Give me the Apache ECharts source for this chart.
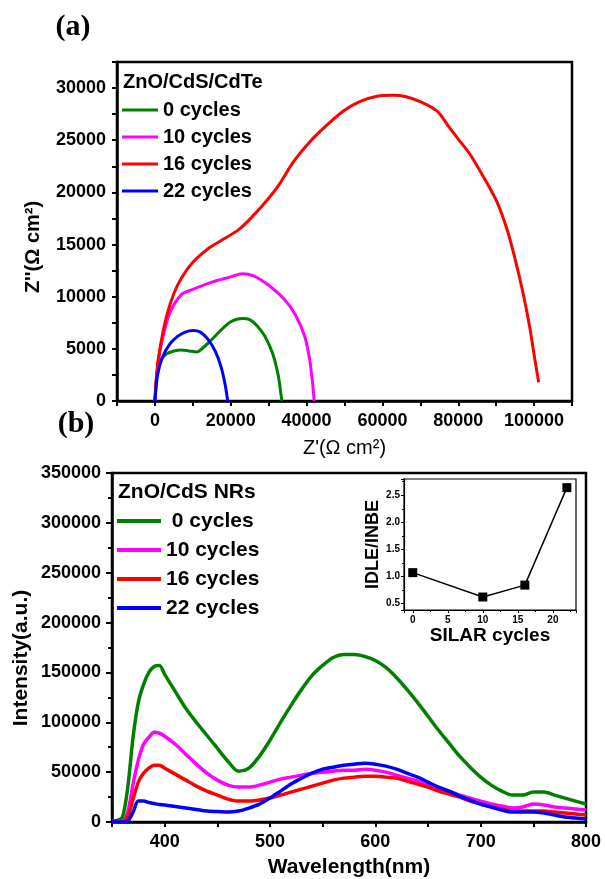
<!DOCTYPE html>
<html>
<head>
<meta charset="utf-8">
<script src="https://cdn.jsdelivr.net/npm/echarts@6/dist/echarts.min.js"></script>
<style>
html,body{margin:0;padding:0;background:#fff}
#chart{width:605px;height:879px}
</style>
</head>
<body>
<div id="chart"></div>
<script>
var FONT = "'Liberation Sans', Arial, sans-serif";
var colors = ['#008000', '#ff00ff', '#ff0000', '#0000ff'];
var namesA = ['0 cycles', '10 cycles', '16 cycles', '22 cycles'];
var namesB = [' 0 cycles', '10 cycles', '16 cycles', '22 cycles'];

// (a) Nyquist plots, [Z', Z'']
var nyq0 = [[0,0],[500,2500],[1500,3900],[3000,4500],[5000,4800],[7000,4900],[9000,4800],[11000,4700],[13000,5200],[15000,5900],[18000,7000],[20000,7600],[23000,7900],[25000,7800],[27000,7200],[29000,6200],[31000,4600],[32500,2500],[33300,500],[33500,0]];
var nyq10 = [[0,0],[800,3500],[2000,6000],[4000,8500],[7000,10200],[10000,10700],[15000,11400],[20000,11900],[23000,12200],[26000,12000],[30000,11100],[34000,9800],[37000,8300],[39500,6200],[40800,4000],[41500,2000],[42000,0]];
var nyq16 = [[0,0],[700,3500],[1800,6000],[3200,8300],[5000,10300],[7000,11800],[10000,13300],[14000,14600],[18000,15500],[22000,16400],[25500,17600],[29000,19000],[32500,20600],[36430,22870],[40000,24500],[43560,25850],[49630,27780],[54000,28700],[58600,29220],[62830,29310],[66000,29200],[70000,28700],[74450,27780],[77500,26300],[80000,25100],[83000,23700],[86590,21520],[90290,19020],[93000,16300],[95040,13540],[97000,10500],[98800,7200],[100200,4000],[101200,1800]];
var nyq22 = [[0,0],[700,2500],[2000,4200],[4000,5500],[6000,6200],[8000,6600],[10000,6750],[12000,6600],[14000,5900],[16000,4700],[17500,3200],[18500,1600],[19200,0]];

// (b) PL spectra
var wavelength = [350,355,360,365,370,375,380,385,390,395,400,410,420,430,440,450,460,470,480,490,500,510,520,530,540,550,560,570,580,590,600,610,620,630,640,650,660,670,680,690,700,710,720,730,740,750,760,770,780,790,800];
var pl0 = [1000,1500,5000,35000,85000,120000,138000,150000,156000,157000,148000,131000,114000,100000,87000,74000,61000,51000,54000,66000,82000,100000,117000,133000,147000,157000,165000,168000,168000,166000,162000,155000,145000,133000,120000,106000,92000,79000,66000,55000,45000,37000,31000,27000,27000,30000,30000,27000,24000,21000,18000];
var pl10 = [0,0,500,10000,38000,62000,78000,85000,90000,89000,86000,78000,68000,58000,49000,42000,37000,35000,35000,37000,40000,43000,45000,47000,49000,50000,51000,52000,52000,53000,52000,50000,47000,44000,41000,37000,34000,31000,27000,24000,21000,18000,16000,14000,15000,18000,17000,15000,14000,13000,12000];
var pl16 = [0,0,0,6000,23000,40000,49000,54000,57000,57000,54000,48000,42000,36000,31000,27000,23000,21000,21000,22000,24000,27000,30000,33000,36000,39000,42000,44000,45000,46000,46000,45000,44000,41000,38000,35000,31000,28000,25000,21000,18000,15000,13000,11000,11000,11000,11000,10000,9000,8000,7000];
var pl22 = [0,0,0,1000,10000,21000,21000,19500,18500,17500,17000,15500,14000,12500,11000,10500,10000,11000,14000,18000,24000,31000,38000,44000,49000,53000,55000,57000,58000,59000,58000,56000,53000,49000,45000,40000,35000,31000,26000,22000,18000,15000,12000,10000,10000,10000,9000,7000,5000,4000,3000];

// inset
var silarCycles = [0, 10, 16, 22];
var ratio = [1.07, 0.62, 0.84, 2.64];

function pairs(xs, ys) {
	var out = [];
	for (var i = 0; i < xs.length; i++) out.push([xs[i], ys[i]]);
	return out;
}

var tickLabel = { color: '#000', fontWeight: 'bold', fontSize: 18, fontFamily: FONT, margin: 11 };

var option = {
	backgroundColor: '#fff',
	animation: false,
	grid: [
		{ left: 117, top: 62, width: 455, height: 339, show: true, borderColor: '#000', borderWidth: 2.5 },
		{ left: 112, top: 473, width: 474, height: 351, show: true, borderColor: '#000', borderWidth: 2.5 },
		{ left: 404, top: 479, width: 172, height: 131, show: true, borderColor: '#000', borderWidth: 1.2, backgroundColor: '#fff' }
	],
	xAxis: [{
		gridIndex: 0, type: 'value', min: -10000, max: 110000, interval: 10000,
		axisLine: { onZero: false, lineStyle: { color: '#000', width: 2.5 } },
		axisTick: { length: 5, lineStyle: { width: 2 } },
		splitLine: { show: false },
		axisLabel: Object.assign({}, tickLabel, { formatter: function (v) { return (v < 0 || v > 100000 || v % 20000 !== 0) ? '' : String(v); } }),
		name: "Z'(Ω cm²)", nameLocation: 'middle', nameGap: 37,
		nameTextStyle: { color: '#000', fontSize: 20, fontFamily: FONT }
	}, {
		gridIndex: 1, type: 'value', min: 350, max: 800, interval: 50,
		axisLine: { onZero: false, lineStyle: { color: '#000', width: 2.5 } },
		axisTick: { length: 5, lineStyle: { width: 2 } },
		splitLine: { show: false },
		axisLabel: Object.assign({}, tickLabel, { formatter: function (v) { return v % 100 === 0 ? String(v) : ''; } }),
		name: 'Wavelength(nm)', nameLocation: 'middle', nameGap: 35,
		nameTextStyle: { color: '#000', fontSize: 21, fontWeight: 'bold', fontFamily: FONT }
	}, {
		gridIndex: 2, type: 'value', min: -1.25, max: 23.3, splitNumber: 5,
		axisLine: { onZero: false, lineStyle: { color: '#000', width: 1.2 } },
		axisTick: { length: 3, lineStyle: { width: 1 } },
		minorTick: { show: true, splitNumber: 2, length: 2, lineStyle: { color: '#000' } },
		splitLine: { show: false },
		axisLabel: { color: '#000', fontSize: 10, fontWeight: 'bold', fontFamily: FONT, margin: 5,
			formatter: function (v) { return (v < 0 || v % 5 !== 0) ? '' : String(v); } },
		name: 'SILAR cycles', nameLocation: 'middle', nameGap: 14,
		nameTextStyle: { color: '#000', fontSize: 19, fontWeight: 'bold', fontFamily: FONT, verticalAlign: 'top' }
	}],
	yAxis: [{
		gridIndex: 0, type: 'value', min: 0, max: 32500, interval: 2500,
		axisLine: { onZero: false, lineStyle: { color: '#000', width: 2.5 } },
		axisTick: { length: 5, lineStyle: { width: 2 } },
		splitLine: { show: false },
		axisLabel: Object.assign({}, tickLabel, { formatter: function (v) { return v % 5000 === 0 ? String(v) : ''; } })
	}, {
		gridIndex: 1, type: 'value', min: 0, max: 350000, interval: 50000,
		axisLine: { onZero: false, lineStyle: { color: '#000', width: 2.5 } },
		axisTick: { length: 6, lineStyle: { width: 2 } },
		minorTick: { show: true, splitNumber: 2, length: 4, lineStyle: { color: '#000', width: 2 } },
		splitLine: { show: false },
		axisLabel: Object.assign({}, tickLabel, { formatter: function (v) { return String(v); } })
	}, {
		gridIndex: 2, type: 'value', min: 0.38, max: 2.8, splitNumber: 5,
		axisLine: { onZero: false, lineStyle: { color: '#000', width: 1.2 } },
		axisTick: { length: 3, lineStyle: { width: 1 } },
		minorTick: { show: true, splitNumber: 2, length: 2, lineStyle: { color: '#000' } },
		splitLine: { show: false },
		axisLabel: { color: '#000', fontSize: 10, fontWeight: 'bold', fontFamily: FONT, margin: 4,
			formatter: function (v) { var t = v * 2; return Math.abs(t - Math.round(t)) < 1e-6 ? v.toFixed(1) : ''; } },
		name: 'IDLE/INBE', nameLocation: 'middle', nameGap: 21,
		nameTextStyle: { color: '#000', fontSize: 18, fontWeight: 'bold', fontFamily: FONT }
	}],
	legend: [{
		data: namesA, orient: 'vertical', left: 122, top: 99, padding: 0,
		icon: 'rect', itemWidth: 36, itemHeight: 3, itemGap: 5, selectedMode: false,
		textStyle: { color: '#000', fontSize: 20, fontWeight: 'bold', fontFamily: FONT, lineHeight: 22 }
	}, {
		data: namesB, orient: 'vertical', left: 117, top: 510, padding: 0,
		icon: 'rect', itemWidth: 44, itemHeight: 4, itemGap: 7, selectedMode: false,
		textStyle: { color: '#000', fontSize: 21, fontWeight: 'bold', fontFamily: FONT, lineHeight: 22 }
	}],
	graphic: [
		{ type: 'text', x: 73, y: 27, style: { text: '(a)', font: 'bold 30px "Liberation Serif", serif', fill: '#000', align: 'center', verticalAlign: 'middle' } },
		{ type: 'text', x: 76, y: 424, style: { text: '(b)', font: 'bold 30px "Liberation Serif", serif', fill: '#000', align: 'center', verticalAlign: 'middle' } },
		{ type: 'text', x: 123, y: 82, style: { text: 'ZnO/CdS/CdTe', font: 'bold 20px ' + FONT, fill: '#000', align: 'left', verticalAlign: 'middle' } },
		{ type: 'text', x: 118, y: 492, style: { text: 'ZnO/CdS NRs', font: 'bold 21px ' + FONT, fill: '#000', align: 'left', verticalAlign: 'middle' } },
		{ type: 'text', x: 33, y: 247, rotation: Math.PI / 2, style: { text: "Z''(Ω cm²)", font: 'bold 20px ' + FONT, fill: '#000', align: 'center', verticalAlign: 'middle' } },
		{ type: 'text', x: 21, y: 658, rotation: Math.PI / 2, style: { text: 'Intensity(a.u.)', font: 'bold 21px ' + FONT, fill: '#000', align: 'center', verticalAlign: 'middle' } }
	],
	series: [
		{ name: namesA[0], type: 'line', xAxisIndex: 0, yAxisIndex: 0, data: nyq0, smooth: 0.3, showSymbol: false, lineStyle: { width: 3, color: colors[0] }, itemStyle: { color: colors[0] } },
		{ name: namesA[1], type: 'line', xAxisIndex: 0, yAxisIndex: 0, data: nyq10, smooth: 0.3, showSymbol: false, lineStyle: { width: 3, color: colors[1] }, itemStyle: { color: colors[1] } },
		{ name: namesA[2], type: 'line', xAxisIndex: 0, yAxisIndex: 0, data: nyq16, smooth: 0.3, showSymbol: false, lineStyle: { width: 3, color: colors[2] }, itemStyle: { color: colors[2] } },
		{ name: namesA[3], type: 'line', xAxisIndex: 0, yAxisIndex: 0, data: nyq22, smooth: 0.3, showSymbol: false, lineStyle: { width: 3, color: colors[3] }, itemStyle: { color: colors[3] } },
		{ name: namesB[0], type: 'line', xAxisIndex: 1, yAxisIndex: 1, data: pairs(wavelength, pl0), smooth: 0.3, showSymbol: false, lineStyle: { width: 3.5, color: colors[0] }, itemStyle: { color: colors[0] } },
		{ name: namesB[1], type: 'line', xAxisIndex: 1, yAxisIndex: 1, data: pairs(wavelength, pl10), smooth: 0.3, showSymbol: false, lineStyle: { width: 3.5, color: colors[1] }, itemStyle: { color: colors[1] } },
		{ name: namesB[2], type: 'line', xAxisIndex: 1, yAxisIndex: 1, data: pairs(wavelength, pl16), smooth: 0.3, showSymbol: false, lineStyle: { width: 3.5, color: colors[2] }, itemStyle: { color: colors[2] } },
		{ name: namesB[3], type: 'line', xAxisIndex: 1, yAxisIndex: 1, data: pairs(wavelength, pl22), smooth: 0.3, showSymbol: false, lineStyle: { width: 3.5, color: colors[3] }, itemStyle: { color: colors[3] } },
		{ name: 'ratio', type: 'line', xAxisIndex: 2, yAxisIndex: 2, data: pairs(silarCycles, ratio), symbol: 'rect', symbolSize: 9, lineStyle: { width: 1.5, color: '#000' }, itemStyle: { color: '#000' } }
	]
};

var chart = echarts.init(document.getElementById('chart'));
chart.setOption(option);
</script>
</body>
</html>
